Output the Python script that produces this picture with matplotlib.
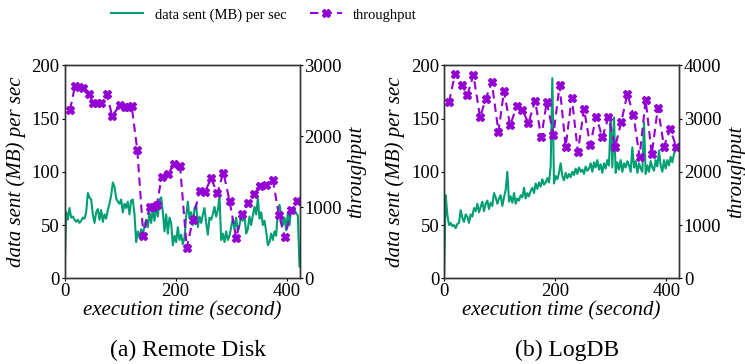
import numpy as np
import matplotlib
matplotlib.use('Agg')
import matplotlib.pyplot as plt

plt.rcParams['font.family'] = ['Liberation Serif', 'DejaVu Serif']

GREEN = '#009E73'
PURPLE = '#9400D3'

# data sent (MB) per sec, one reading every 3 seconds
step = 3
remote_sent = [0, 62, 55, 66, 57, 58, 55, 53, 55, 52, 54, 57, 56, 62, 80, 76, 74, 60, 52, 62,
               65, 55, 64, 53, 60, 56, 64, 70, 78, 90, 86, 75, 72, 70, 74, 62, 70, 66, 72, 60,
               73, 74, 60, 34, 44, 38, 46, 40, 50, 55, 48, 62, 52, 66, 54, 68, 58, 74, 76, 62,
               44, 60, 42, 57, 52, 31, 40, 34, 48, 36, 41, 32, 38, 58, 72, 56, 62, 50, 66, 69,
               48, 58, 52, 60, 66, 52, 41, 57, 55, 60, 67, 58, 64, 77, 36, 42, 34, 44, 36, 40,
               48, 56, 46, 57, 44, 50, 58, 54, 60, 42, 46, 58, 50, 59, 67, 60, 75, 56, 62, 50,
               54, 44, 31, 34, 42, 36, 44, 40, 62, 69, 60, 50, 57, 45, 62, 50, 66, 62, 65, 61,
               59, 11]
logdb_sent = [0, 78, 60, 50, 52, 49, 50, 47, 51, 52, 64, 57, 53, 60, 58, 52, 60, 58, 66, 63,
              70, 62, 67, 72, 63, 70, 73, 65, 71, 68, 80, 76, 70, 75, 78, 68, 76, 83, 100, 72,
              77, 71, 80, 70, 75, 73, 78, 76, 85, 75, 80, 77, 82, 85, 80, 89, 84, 90, 86, 93,
              88, 90, 94, 90, 105, 188, 89, 96, 93, 99, 108, 96, 92, 99, 94, 98, 95, 100, 97, 103,
              98, 104, 100, 102, 98, 105, 101, 103, 108, 100, 109, 104, 111, 102, 107, 99, 108, 103, 111, 106,
              153, 104, 151, 99, 109, 102, 111, 100, 108, 104, 110, 106, 100, 123, 104, 110, 99, 108, 103, 100,
              146, 98, 106, 100, 110, 104, 101, 111, 105, 120, 106, 100, 111, 103, 111, 106, 114, 109, 117, 120]

# throughput samples
remote_thr_t = [10, 19, 26, 33, 44, 52, 59, 66, 76, 86, 99, 108, 115, 121, 131, 142, 153, 160, 166, 175, 186,
                197, 208, 220, 231, 243, 253, 264, 275, 286, 297, 309, 319, 330, 341, 352, 363, 375, 386, 397, 408, 418]
remote_thr = [2370, 2715, 2700, 2685, 2590, 2465, 2465, 2465, 2590, 2285, 2435, 2410, 2410, 2420, 1810, 590,
              1000, 1010, 1030, 1430, 1465, 1605, 1580, 430, 820, 1230, 1220, 1410, 1195, 1490, 1095, 570,
              900, 1055, 1185, 1295, 1315, 1390, 885, 575, 960, 1085]
logdb_thr_t = [9, 20, 32, 42, 53, 65, 75, 86, 98, 108, 119, 131, 141, 152, 164, 175, 185, 197, 208,
               219, 230, 241, 252, 263, 274, 285, 296, 308, 319, 330, 341, 352, 363, 374, 385, 396, 407, 418]
logdb_thr = [3305, 3845, 3630, 3443, 3818, 3024, 3367, 3680, 2754, 3518, 2870, 3235, 3161, 2915, 3337,
             2645, 3318, 2692, 3625, 2473, 3393, 2379, 3180, 2504, 3036, 2648, 3024, 2473, 2930, 3462,
             3067, 2285, 3349, 2329, 3205, 2473, 2804, 2473]

panels = [
    ('(a) Remote Disk', remote_sent, remote_thr_t, remote_thr, 3000, [0, 1000, 2000, 3000], 188),
    ('(b) LogDB', logdb_sent, logdb_thr_t, logdb_thr, 4000, [0, 1000, 2000, 3000, 4000], 567),
]
left_px = [64.5, 444]

W, H = 745, 364
fig = plt.figure(figsize=(W / 100, H / 100), dpi=100)

handles = None
for i, (cap, sent, thr_t, thr, thr_max, thr_ticks, cap_x) in enumerate(panels):
    ax = fig.add_axes([left_px[i] / W, (H - 278.3) / H, 235 / W, 213 / H])
    t = np.arange(len(sent)) * step
    l1, = ax.plot(t, sent, color=GREEN, lw=1.5, label='data sent (MB) per sec')
    ax.set_xlim(0, 423)
    ax.set_ylim(0, 200)
    ax.set_xticks([0, 200, 400])
    ax.set_yticks([0, 50, 100, 150, 200])
    ax.set_xlabel('execution time (second)', fontsize=15, style='italic', labelpad=1)
    ax.set_ylabel('data sent (MB) per sec', fontsize=15, style='italic', labelpad=4)

    ax2 = ax.twinx()
    l2, = ax2.plot(thr_t, thr, color=PURPLE, ls='--', lw=1.5, marker='X', ms=6,
                   dashes=(4, 2.5), label='throughput')
    ax2.set_ylim(0, thr_max)
    ax2.set_yticks(thr_ticks)
    ax2.set_ylabel('throughput', fontsize=15, style='italic', labelpad=4)

    for a in (ax, ax2):
        a.tick_params(labelsize=13.5, length=2.5, width=0.8, pad=1)
        for s in a.spines.values():
            s.set_color('#333333')
            s.set_linewidth(1.0)

    fig.text(cap_x / W, 1 - 350 / H, cap, fontsize=17, ha='center', va='center')
    handles = [l1, l2]

fig.legend(handles, [h.get_label() for h in handles], loc='center', ncol=2,
           bbox_to_anchor=(264 / W, 1 - 15 / H), frameon=False, fontsize=10.5,
           handlelength=2.2, handletextpad=0.8, columnspacing=1.6)

fig.savefig('out.png', dpi=100)
